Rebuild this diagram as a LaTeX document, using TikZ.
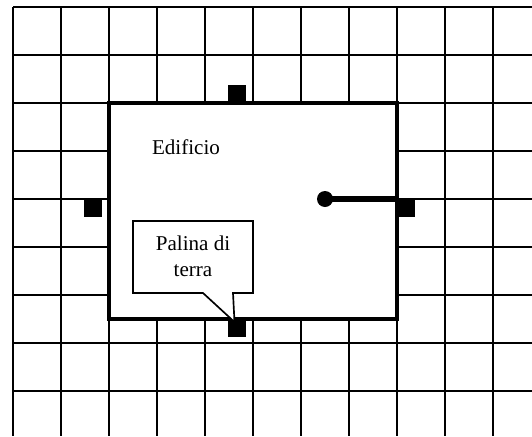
\documentclass[tikz,border=0pt]{standalone}
\usepackage{fontspec}
\setmainfont{Liberation Serif}
\newcommand{\fts}{\fontsize{15.8}{19.5}\selectfont}

\begin{document}
\begin{tikzpicture}[x=0.75pt, y=-0.75pt, line width=1.25pt,
    picchetto/.style = {fill, inner sep=0pt, minimum width=13.5pt, minimum height=13pt},
    edificio/.style = {draw, fill=white, line width=2.8pt},
    filo/.style = {line width=5.2pt},
    fumetto/.style = {draw, fill=white, line join=miter}]
    \useasboundingbox (0,0) rectangle (532,436);
    \foreach \x in {13, 61, 109, 157, 205, 253, 301, 349, 397, 445, 493} {
      \draw (\x,7) -- (\x,436);
    }
    \foreach \y in {7, 55, 103, 151, 199, 247, 295, 343, 391} {
      \draw (13,\y) -- (532,\y);
    }
    \draw[edificio] (109,103) rectangle (397,319);
    \foreach \i\x\y in {nord/237/94, ovest/93/208, est/406/208, sud/237/328} {
      \node[picchetto] (\i) at (\x,\y) {};
    }
    \node[fill, circle, inner sep=0pt, minimum size=12pt] (attacco) at (325,199) {};
    \draw[filo] (attacco.center) -- (attacco.center -| est.west);
    \draw[fumetto] (133,221) -- (253,221) -- (253,293) -- (233,293) -- (234.5,322)
      -- (203,293) -- (133,293) -- cycle;
    \node[align=center, font=\fts] (palina) at (193,256) {Palina di\\terra};
    \node[font=\fts] (nome) at (186,147) {Edificio};
  \end{tikzpicture}
\end{document}
